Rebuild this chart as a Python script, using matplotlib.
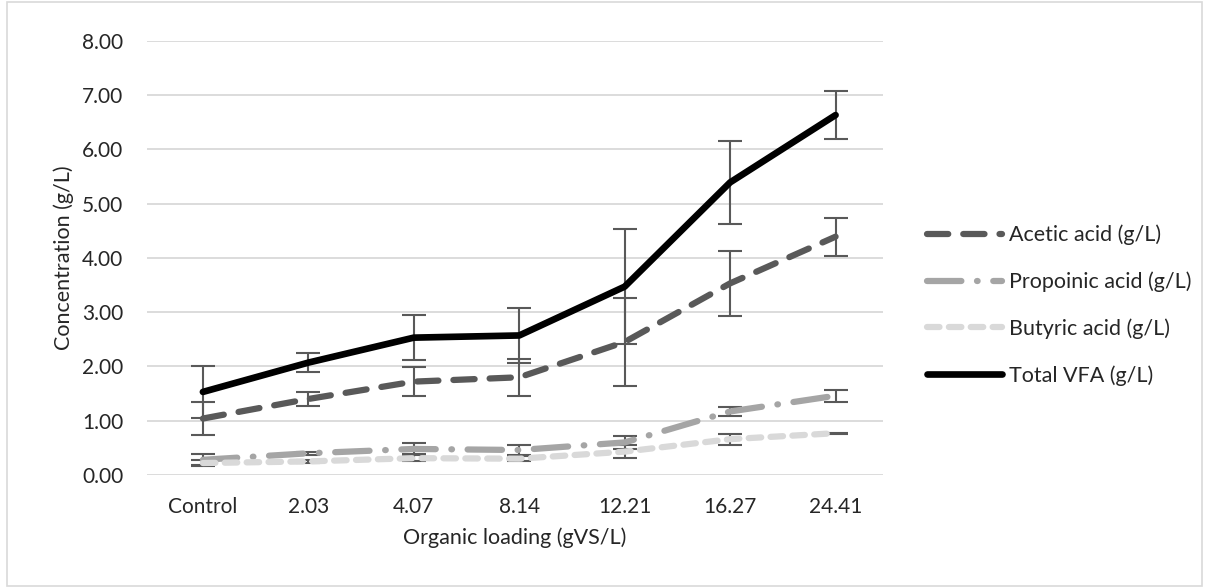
import matplotlib.pyplot as plt
from matplotlib.patches import Rectangle

# loading levels (x axis categories)
loadings = ['Control', '2.03', '4.07', '8.14', '12.21', '16.27', '24.41']

# concentrations in g/L
acetic = [1.04, 1.40, 1.72, 1.80, 2.45, 3.53, 4.39]
acetic_err = [0.31, 0.13, 0.27, 0.34, 0.81, 0.60, 0.35]
propionic = [0.28, 0.40, 0.48, 0.46, 0.60, 1.17, 1.46]
propionic_err = [0.10, 0.03, 0.10, 0.10, 0.12, 0.08, 0.11]
butyric = [0.22, 0.25, 0.31, 0.30, 0.43, 0.66, 0.77]
butyric_err = [0.06, 0.03, 0.05, 0.05, 0.12, 0.10, 0.01]
total = [1.53, 2.07, 2.53, 2.57, 3.47, 5.39, 6.63]
total_err = [0.48, 0.18, 0.42, 0.51, 1.06, 0.76, 0.44]

plt.rcParams['font.family'] = ['Lato', 'DejaVu Sans']

fig = plt.figure(figsize=(12.07, 5.88), dpi=100)
ax = fig.add_axes([0.1218, 0.1922, 0.6098, 0.7386])

x = list(range(len(loadings)))
err_col = '#595959'
ekw = dict(ecolor=err_col, elinewidth=1.5, capsize=8.5, capthick=1.5)

ax.errorbar(x, acetic, yerr=acetic_err, color='#595959', lw=4.5,
            dashes=(3.4, 2.4), dash_capstyle='round',
            label='Acetic acid (g/L)', zorder=3, **ekw)
ax.errorbar(x, propionic, yerr=propionic_err, color='#A5A5A5', lw=4.5,
            dashes=(5.5, 2.5, 0.1, 2.5), dash_capstyle='round',
            label='Propoinic acid (g/L)', zorder=3, **ekw)
ax.errorbar(x, butyric, yerr=butyric_err, color='#D9D9D9', lw=4.5,
            dashes=(2.0, 1.5), dash_capstyle='round',
            label='Butyric acid (g/L)', zorder=3, **ekw)
ax.errorbar(x, total, yerr=total_err, color='black', lw=4.8,
            solid_capstyle='round', solid_joinstyle='round',
            label='Total VFA (g/L)', zorder=4, **ekw)

ax.set_xlim(-0.53, 6.45)
ax.set_ylim(0, 8)
ax.set_yticks(range(0, 9))
ax.set_yticklabels([f'{v:.2f}' for v in range(0, 9)])
ax.set_xticks(x)
ax.set_xticklabels(loadings)
ax.tick_params(axis='both', length=0, labelsize=15, colors='#262626')
ax.tick_params(axis='x', pad=16)
ax.tick_params(axis='y', pad=17)
ax.grid(axis='y', color='#D9D9D9', lw=1.3)
ax.set_axisbelow(True)
for s in ax.spines.values():
    s.set_visible(False)

ax.set_xlabel('Organic loading (gVS/L)', fontsize=15.5, color='#262626', labelpad=7)
ax.set_ylabel('Concentration (g/L)', fontsize=15.5, color='#262626', labelpad=6)

# legend to the right, handles without error bar markers
handles, labels = ax.get_legend_handles_labels()
handles = [h[0] for h in handles]
leg = fig.legend(handles, labels, loc='center left', bbox_to_anchor=(0.752, 0.481),
                 frameon=False, fontsize=15.5, handlelength=3.5, handletextpad=0.3,
                 labelspacing=1.22)
for t in leg.get_texts():
    t.set_color('#262626')

# light frame round the chart
fig.patches.append(Rectangle((0.006, 0.004), 0.99, 0.992, transform=fig.transFigure,
                             fill=False, edgecolor='#D9D9D9', lw=1.2))

fig.savefig('out.png', dpi=100)
